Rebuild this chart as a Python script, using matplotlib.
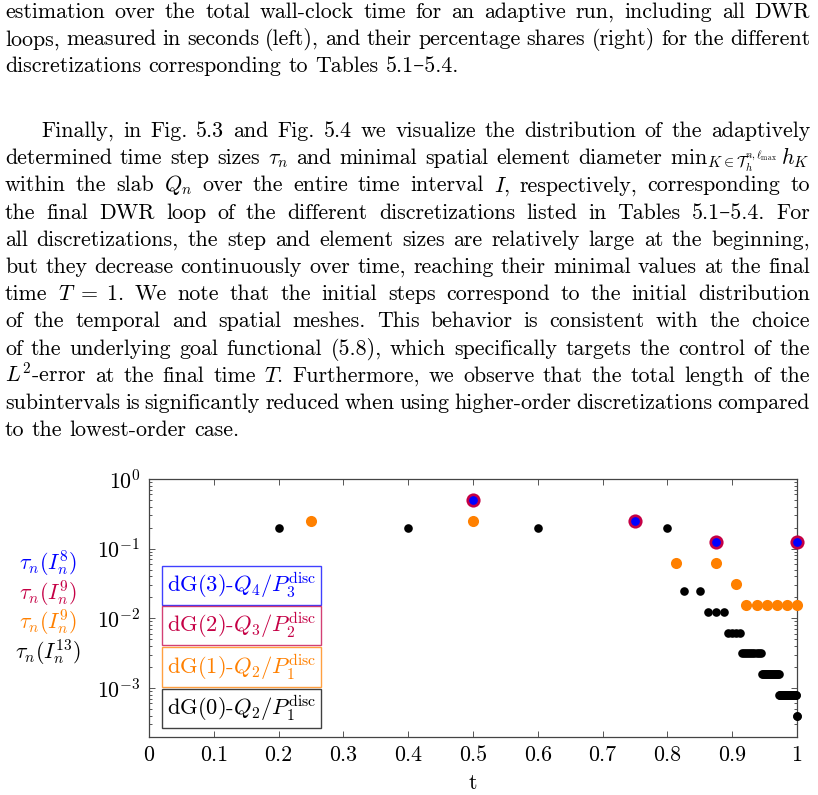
import re
import numpy as np
import matplotlib
matplotlib.use("Agg")
import matplotlib.pyplot as plt

plt.rcParams["font.family"] = ["cmr10", "DejaVu Serif"]
plt.rcParams["mathtext.fontset"] = "cm"
plt.rcParams["axes.formatter.use_mathtext"] = True

W, H = 818, 795
FS = 15.8

# step sizes tau_n of the final DWR loop (plotted at the right end t_n of each slab)
tau_dg3 = [0.5, 0.25, 0.125, 0.125]
tau_dg2 = [0.5, 0.25, 0.125, 0.125]
tau_dg1 = [0.25, 0.25, 0.25, 0.0625, 0.0625, 0.03125] + [0.015625] * 6
tau_dg0 = ([0.2] * 4 + [0.025] * 2 + [0.0125] * 3 + [0.00625] * 4
           + [0.003125] * 10 + [0.0015625] * 18 + [0.00078125] * 35
           + [0.000390625] * 2)

series_labels = [r"dG(3)-$Q_4/P_3^{\mathrm{disc}}$", r"dG(2)-$Q_3/P_2^{\mathrm{disc}}$",
                 r"dG(1)-$Q_2/P_1^{\mathrm{disc}}$", r"dG(0)-$Q_2/P_1^{\mathrm{disc}}$"]
side_labels = [r"$\tau_n(I_n^8)$", r"$\tau_n(I_n^9)$", r"$\tau_n(I_n^9)$", r"$\tau_n(I_n^{13})$"]
colors = ["#0000FF", "#C50045", "#FF8000", "#000000"]

x_ticks = [0, 0.1, 0.2, 0.3, 0.4, 0.5, 0.6, 0.7, 0.8, 0.9, 1]
x_ticklabels = ["0", "0.1", "0.2", "0.3", "0.4", "0.5", "0.6", "0.7", "0.8", "0.9", "1"]

para1 = [
    "estimation over the total wall-clock time for an adaptive run, including all DWR",
    "loops, measured in seconds (left), and their percentage shares (right) for the different",
    "discretizations corresponding to Tables 5.1\u20135.4.",
]
para2 = [
    "Finally, in Fig. 5.3 and Fig. 5.4 we visualize the distribution of the adaptively",
    r"determined time step sizes $\tau_n$ and minimal spatial element diameter $\mathrm{min}_{K\in\mathcal{T}_h^{n,\ell_{\max}}}\,h_K$",
    r"within the slab $Q_n$ over the entire time interval $I$, respectively, corresponding to",
    "the final DWR loop of the different discretizations listed in Tables 5.1\u20135.4.  For",
    "all discretizations, the step and element sizes are relatively large at the beginning,",
    "but they decrease continuously over time, reaching their minimal values at the final",
    r"time $T\;=\;1$.  We note that the initial steps correspond to the initial distribution",
    "of the temporal and spatial meshes.  This behavior is consistent with the choice",
    "of the underlying goal functional (5.8), which specifically targets the control of the",
    r"$L^2$-error at the final time $T$. Furthermore, we observe that the total length of the",
    "subintervals is significantly reduced when using higher-order discretizations compared",
    "to the lowest-order case.",
]

fig = plt.figure(figsize=(W / 100, H / 100), dpi=100)
renderer = fig.canvas.get_renderer()


def put_line(text, y_px, x0, x1, justify):
    words = re.findall(r"(?:\$[^$]*\$|\S)+", text)
    objs = [fig.text(0, 1 - y_px / H, w, fontsize=FS, va="baseline", ha="left") for w in words]
    widths = [o.get_window_extent(renderer).width for o in objs]
    if justify and len(words) > 1:
        gap = (x1 - x0 - sum(widths)) / (len(words) - 1)
    else:
        gap = FS * 1.389 * 0.333
    x = x0
    for o, w in zip(objs, widths):
        o.set_x(x / W)
        x += w + gap


y = 18
for i, line in enumerate(para1):
    put_line(line, y, 5, 810, i < len(para1) - 1)
    y += 27.2
y = 137
for i, line in enumerate(para2):
    put_line(line, y, 41 if i == 0 else 5, 810, i < len(para2) - 1)
    y += 27.2

# plot
ax = fig.add_axes([149 / W, 1 - 737 / H, 648 / W, 258 / H])

t_dg0 = np.cumsum(tau_dg0)
t_dg1 = np.cumsum(tau_dg1)
t_dg2 = np.cumsum(tau_dg2)
t_dg3 = np.cumsum(tau_dg3)

ax.plot(t_dg0, tau_dg0, "o", color=colors[3], ms=6.2, mew=0, zorder=3, clip_on=False)
ax.plot(t_dg1, tau_dg1, "o", color=colors[2], ms=8.0, mew=0, zorder=4, clip_on=False)
ax.plot(t_dg2, tau_dg2, "o", color=colors[1], ms=10.2, mew=0, zorder=5, clip_on=False)
ax.plot(t_dg3, tau_dg3, "o", color=colors[0], ms=6.3, mew=0, zorder=6, clip_on=False)

ax.set_yscale("log")
ax.set_xlim(0, 1)
ax.set_ylim(10 ** -3.704, 1)
ax.set_xticks(x_ticks)
ax.set_xticklabels(x_ticklabels)
ax.tick_params(which="both", direction="in", top=True, right=True, labelsize=FS,
               color="#555555", width=0.7)
ax.tick_params(which="major", length=4.5, pad=6)
ax.tick_params(which="minor", length=2.5)
ax.minorticks_off()
ax.yaxis.set_minor_locator(matplotlib.ticker.LogLocator(base=10, subs=np.arange(2, 10)))
ax.yaxis.set_minor_formatter(matplotlib.ticker.NullFormatter())
for s in ax.spines.values():
    s.set_color("#444444")
    s.set_linewidth(0.9)
ax.set_xlabel("t", fontsize=FS, labelpad=6)

# framed series labels inside the axes
box_y = [585.5, 625.5, 667, 708.5]
for lab, c, yb in zip(series_labels, colors, box_y):
    fig.text(167 / W, 1 - yb / H, lab, fontsize=FS + 0.4, color=c, va="center", ha="left",
             bbox=dict(boxstyle="square,pad=0.22", fc="white", ec=c, lw=1.0, alpha=0.75))

side_y = [563, 593, 622, 652]
for lab, c, ys in zip(side_labels, colors, side_y):
    fig.text(48 / W, 1 - ys / H, lab, fontsize=FS, color=c, va="center", ha="center")

fig.savefig("out.png", dpi=100)
